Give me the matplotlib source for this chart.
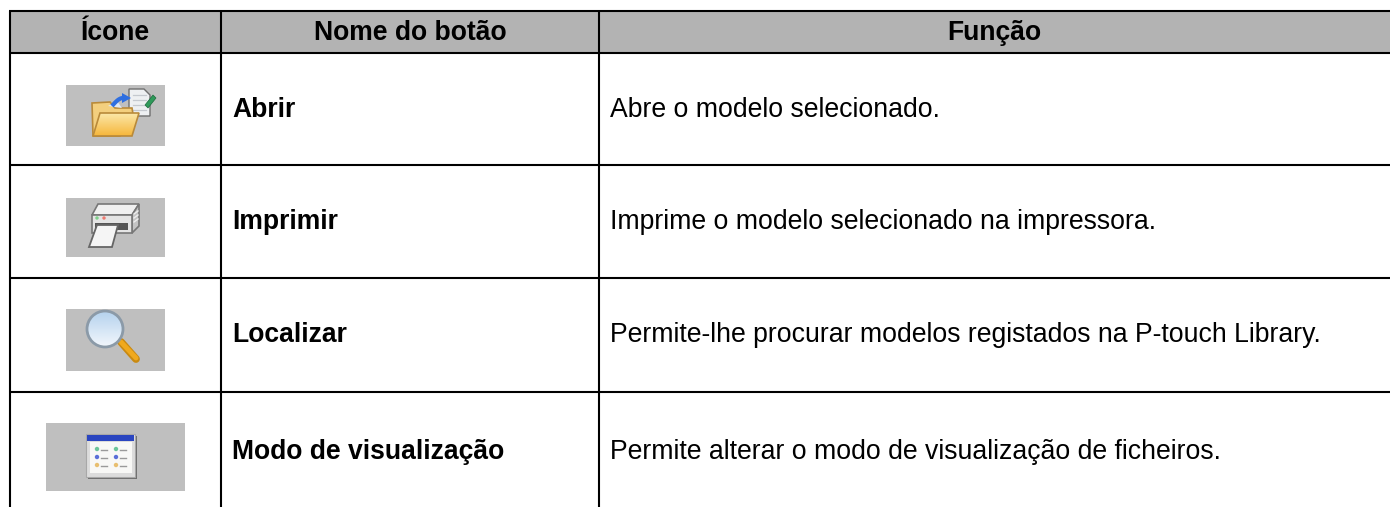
import numpy as np
import matplotlib
matplotlib.use('Agg')
import matplotlib.pyplot as plt
from matplotlib.patches import Polygon, Circle, Rectangle

headers = ['Ícone', 'Nome do botão', 'Função']
names = ['Abrir', 'Imprimir', 'Localizar', 'Modo de visualização']
functions = ['Abre o modelo selecionado.',
             'Imprime o modelo selecionado na impressora.',
             'Permite-lhe procurar modelos registados na P-touch Library.',
             'Permite alterar o modo de visualização de ficheiros.']

# table layout, in pixels
col_lines = [10, 221, 599]
row_lines = [11, 53, 165, 278, 392]
header_base = 40
row_base = [117, 229, 342, 459]
icon_boxes = [(66, 85, 99, 61), (66, 198, 99, 59), (66, 309, 99, 62), (46, 423, 139, 68)]

plt.rcParams['font.family'] = ['Liberation Sans', 'DejaVu Sans']
fig = plt.figure(figsize=(13.9, 5.07), dpi=100)
ax = fig.add_axes([0, 0, 1, 1])
W, H = 1390, 507


def gradient(poly, c1, c2, y0, y1, x0, x1, z=3):
    # vertical gradient clipped to a patch
    g = np.linspace(0, 1, 32)[:, None, None]
    img = (1 - g) * np.array(matplotlib.colors.to_rgb(c1))[None, None, :] + g * np.array(matplotlib.colors.to_rgb(c2))[None, None, :]
    im = ax.imshow(img, extent=(x0, x1, y1, y0), aspect='auto', zorder=z, interpolation='bilinear')
    im.set_clip_path(poly)


def folder_icon():
    ax.add_patch(Polygon([(129, 89), (144, 89), (150, 95), (150, 116), (129, 116)], fc='#eef0f2', ec='#6f6f6f', lw=1.0, zorder=2.5))
    for yy in [95, 100, 105, 110]:
        ax.plot([133, 146], [yy, yy], color='#c5c9cf', lw=0.9, zorder=2.6)
    ax.add_patch(Polygon([(145, 105), (153, 95), (156, 98), (148, 108)], fc='#2f9a5a', ec='#1c6a3c', lw=0.5, zorder=3.5))
    back = Polygon([(93, 136), (92, 103), (110, 102), (115, 108), (132, 108), (133, 114), (120, 136)],
                   fc='#f3cf7e', ec='#b98a3a', lw=1.2, zorder=3)
    ax.add_patch(back)
    # blue arrow going from the folder to the document
    t = np.linspace(0, 1, 12)
    ax.plot(112 + 11 * t, 106 - 8 * np.sin(t * np.pi / 2), color='#2f6fe0', lw=3, solid_capstyle='butt', zorder=3.5)
    ax.add_patch(Polygon([(122, 93), (131, 98), (122, 103)], fc='#2f6fe0', ec='none', zorder=3.5))
    ax.add_patch(Polygon([(108, 106), (117, 101), (122, 108)], fc='#dfe8f4', ec='none', zorder=3.4))
    fill = Polygon([(93, 136), (100, 113), (139, 113), (132, 136)], fc='none', ec='none', zorder=3.6)
    ax.add_patch(fill)
    gradient(fill, '#fbe7a8', '#f6b73c', 113, 136, 92, 140, z=3.6)
    ax.add_patch(Polygon([(93, 136), (100, 113), (139, 113), (132, 136)], fc='none', ec='#b98a3a', lw=1.2, zorder=4))


def printer_icon():
    ax.add_patch(Polygon([(92, 215), (98, 204), (139, 204), (132, 215)], fc='#f0f0f0', ec='#777777', lw=1.2, zorder=3))
    ax.add_patch(Polygon([(132, 215), (139, 204), (139, 226), (132, 233)], fc='#c4c4c4', ec='#777777', lw=1.2, zorder=3))
    for yy in [212, 216, 220]:
        ax.plot([134, 138], [yy + 2, yy - 1], color='#eeeeee', lw=1, zorder=3.2)
    ax.add_patch(Polygon([(92, 215), (132, 215), (132, 233), (92, 233)], fc='#e4e4e4', ec='#777777', lw=1.2, zorder=3))
    ax.add_patch(Rectangle((95, 223), 33, 7, fc='#555555', ec='none', zorder=3.3))
    ax.add_patch(Circle((97, 218), 1.7, fc='#7ed08a', ec='none', zorder=3.4))
    ax.add_patch(Circle((104, 218), 1.7, fc='#ee7a70', ec='none', zorder=3.4))
    ax.add_patch(Polygon([(89, 247), (97, 225), (118, 225), (112, 247)], fc='#f5f5f5', ec='#666666', lw=1.3, zorder=3.5))


def search_icon():
    ax.plot([121, 136], [342, 359], color='#c98a12', lw=5.6, solid_capstyle='round', zorder=3)
    ax.plot([121, 136], [342, 358], color='#f0a91e', lw=3.5, solid_capstyle='round', zorder=3.1)
    lens = Circle((105, 329), 18, fc='none', ec='none', zorder=3.4)
    ax.add_patch(lens)
    gradient(lens, '#b5d2ee', '#f2f7fc', 311, 347, 87, 123, z=3.4)
    ax.add_patch(Circle((105, 329), 18, fc='none', ec='#8b9aa8', lw=2.0, zorder=3.6))


def window_icon():
    ax.add_patch(Rectangle((88, 436), 49, 43, fc='#6e6e6e', ec='none', zorder=2.5))
    ax.add_patch(Rectangle((86, 434), 49, 43, fc='#dcdcdc', ec='#a8a8a8', lw=0.8, zorder=3))
    ax.add_patch(Rectangle((87, 435), 47, 6, fc='#2a45c0', ec='none', zorder=3.1))
    ax.add_patch(Rectangle((90, 442), 42, 31, fc='#f8f8f6', ec='none', zorder=3.1))
    for cx in [97, 116]:
        for cy, c in zip([449, 457, 465], ['#6cc59a', '#5a6fd8', '#e8bf70']):
            ax.add_patch(Circle((cx, cy), 2.2, fc=c, ec='none', zorder=3.3))
            ax.plot([cx + 4, cx + 10], [cy + 0.5, cy + 0.5], color='#9a9a9a', lw=1.0, zorder=3.3)


# header band
ax.add_patch(Rectangle((col_lines[0], row_lines[0]), W - col_lines[0], row_lines[1] - row_lines[0], fc='#b3b3b3', ec='none', zorder=1))

for b in icon_boxes:
    ax.add_patch(Rectangle((b[0], b[1]), b[2], b[3], fc='#bfbfbf', ec='none', zorder=2))
folder_icon()
printer_icon()
search_icon()
window_icon()

# grid lines
for y in row_lines:
    ax.plot([col_lines[0] - 1, W], [y, y], color='black', lw=1.5, solid_capstyle='butt', zorder=5)
for x in col_lines:
    ax.plot([x, x], [row_lines[0], H], color='black', lw=1.5, solid_capstyle='butt', zorder=5)

# texts
centers = [(col_lines[0] + col_lines[1]) / 2, (col_lines[1] + col_lines[2]) / 2, (col_lines[2] + W) / 2]
for cx, t in zip(centers, headers):
    ax.text(cx, header_base, t, ha='center', va='baseline', fontsize=19.1, fontweight='bold', color='black', zorder=6)
for yb, n, f in zip(row_base, names, functions):
    ax.text(232, yb, n, ha='left', va='baseline', fontsize=19.1, fontweight='bold', color='black', zorder=6)
    ax.text(610, yb, f, ha='left', va='baseline', fontsize=19.2, color='black', zorder=6)

ax.set_xlim(0, W)
ax.set_ylim(H, 0)
ax.axis('off')
fig.savefig('out.png', dpi=100, facecolor='white')
